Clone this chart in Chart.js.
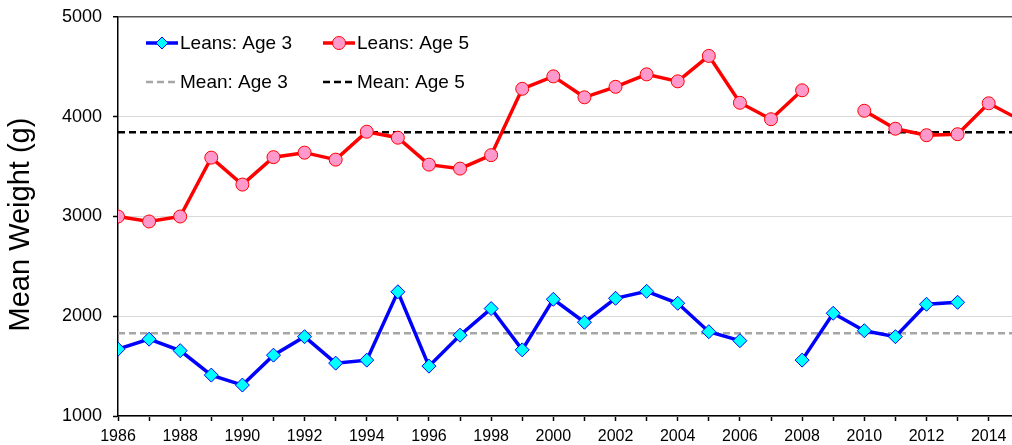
<!DOCTYPE html>
<html>
<head>
<meta charset="utf-8">
<script src="https://cdn.jsdelivr.net/npm/chart.js@4.4.1/dist/chart.umd.min.js"></script>
<style>
  html, body { margin: 0; padding: 0; background: #fff; }
  #wrap { width: 1012px; height: 445px; }
</style>
</head>
<body>
<div id="wrap"><canvas id="chart" width="1012" height="445"></canvas></div>
<script>
const years = [1986, 1987, 1988, 1989, 1990, 1991, 1992, 1993, 1994, 1995,
               1996, 1997, 1998, 1999, 2000, 2001, 2002, 2003, 2004, 2005,
               2006, 2007, 2008, 2009, 2010, 2011, 2012, 2013, 2014, 2015];

const age3 = [1670, 1770, 1655, 1410, 1310, 1610, 1795, 1530, 1560, 2245,
              1500, 1810, 2077, 1663, 2170, 1940, 2180, 2250, 2130, 1845,
              1755, null, 1560, 2030, 1855, 1795, 2120, 2140, null, null];

const age5 = [3000, 2950, 3000, 3590, 3320, 3595, 3640, 3570, 3850, 3790,
              3520, 3480, 3615, 4280, 4405, 4195, 4300, 4425, 4355, 4610,
              4140, 3975, 4265, null, 4060, 3880, 3815, 3825, 4135, 3970];

const meanAge3 = 1830;
const meanAge5 = 3845;

const yTicks = [1000, 2000, 3000, 4000, 5000];

const pts = arr => years.map((yr, i) => ({ x: yr, y: arr[i] }));
const flat = v => [{ x: years[0], y: v }, { x: years[years.length - 1], y: v }];

// legend drawn inside the plot, 2 x 2 grid
const insideLegend = {
  id: 'insideLegend',
  afterDraw(chart) {
    const ctx = chart.ctx;
    const a = chart.chartArea;
    const items = [
      { text: 'Leans: Age 3', col: 0, row: 0, color: '#0000ff', dash: [], w: 3.5, marker: 'diamond' },
      { text: 'Leans: Age 5', col: 1, row: 0, color: '#ff0000', dash: [], w: 3.5, marker: 'circle' },
      { text: 'Mean: Age 3', col: 0, row: 1, color: '#a6a6a6', dash: [7, 4], w: 2.5 },
      { text: 'Mean: Age 5', col: 1, row: 1, color: '#000000', dash: [7, 4], w: 2.5 }
    ];
    ctx.save();
    items.forEach(it => {
      const x0 = a.left + 28 + it.col * 177;
      const y = a.top + 26 + it.row * 39;
      ctx.strokeStyle = it.color;
      ctx.lineWidth = it.w;
      ctx.setLineDash(it.dash);
      ctx.beginPath();
      ctx.moveTo(x0, y);
      ctx.lineTo(x0 + 32, y);
      ctx.stroke();
      ctx.setLineDash([]);
      const cx = x0 + 16;
      if (it.marker === 'diamond') {
        ctx.fillStyle = '#00ffff';
        ctx.strokeStyle = '#0000ff';
        ctx.lineWidth = 1;
        ctx.beginPath();
        ctx.moveTo(cx, y - 6); ctx.lineTo(cx + 6, y); ctx.lineTo(cx, y + 6); ctx.lineTo(cx - 6, y);
        ctx.closePath(); ctx.fill(); ctx.stroke();
      } else if (it.marker === 'circle') {
        ctx.fillStyle = '#ff99cc';
        ctx.strokeStyle = '#ff0000';
        ctx.lineWidth = 1;
        ctx.beginPath();
        ctx.arc(cx, y, 6.5, 0, Math.PI * 2);
        ctx.fill(); ctx.stroke();
      }
      ctx.fillStyle = '#000';
      ctx.font = '19px "Liberation Sans", Arial, sans-serif';
      ctx.textAlign = 'left';
      ctx.textBaseline = 'middle';
      ctx.fillText(it.text, x0 + 34, y + 1);
    });
    ctx.restore();
  }
};

new Chart(document.getElementById('chart').getContext('2d'), {
  type: 'line',
  data: {
    datasets: [
      { label: 'Leans: Age 3', data: pts(age3), borderColor: '#0000ff', borderWidth: 3.5,
        pointStyle: 'rectRot', pointRadius: 7, pointBackgroundColor: '#00ffff',
        pointBorderColor: '#0000ff', pointBorderWidth: 1, spanGaps: false, tension: 0, order: 0 },
      { label: 'Leans: Age 5', data: pts(age5), borderColor: '#ff0000', borderWidth: 3.5,
        pointStyle: 'circle', pointRadius: 6.5, pointBackgroundColor: '#ff99cc',
        pointBorderColor: '#ff0000', pointBorderWidth: 1, spanGaps: false, tension: 0, order: 0 },
      { label: 'Mean: Age 3', data: flat(meanAge3), borderColor: '#a6a6a6', borderWidth: 2.5,
        borderDash: [7, 4], pointRadius: 0, order: 1 },
      { label: 'Mean: Age 5', data: flat(meanAge5), borderColor: '#000000', borderWidth: 2.5,
        borderDash: [7, 4], pointRadius: 0, order: 1 }
    ]
  },
  options: {
    responsive: false,
    animation: false,
    layout: { autoPadding: false, padding: { top: 17, right: 0, left: 0, bottom: 0 } },
    plugins: { legend: { display: false }, tooltip: { enabled: false } },
    scales: {
      x: {
        type: 'linear',
        min: 1986,
        max: 2014.75,
        afterBuildTicks: s => { s.ticks = years.filter(y => y <= 2014).map(v => ({ value: v })); },
        afterFit: s => { s.height = 29; s.paddingLeft = 0; s.paddingRight = 0; },
        grid: { drawOnChartArea: false, drawTicks: true, tickLength: 5, tickColor: '#000', tickWidth: 1.5 },
        border: { color: '#000', width: 1.5 },
        ticks: {
          autoSkip: false, maxRotation: 0, padding: 6, color: '#000',
          font: { family: '"Liberation Sans", Arial, sans-serif', size: 16 },
          callback: v => (v % 2 === 0 ? String(v) : '')
        }
      },
      y: {
        min: 1000,
        max: 5000,
        afterBuildTicks: s => { s.ticks = yTicks.map(v => ({ value: v })); },
        afterFit: s => { s.width = 118; s.paddingTop = 0; s.paddingBottom = 0; },
        grid: {
          color: c => (c.tick && c.tick.value === 5000 ? '#555' : '#d9d9d9'),
          lineWidth: c => (c.tick && c.tick.value === 5000 ? 1.5 : 1),
          tickLength: 5, tickColor: '#000', tickWidth: 1.5
        },
        border: { color: '#000', width: 1.5 },
        ticks: {
          padding: 11, color: '#000',
          font: { family: '"Liberation Sans", Arial, sans-serif', size: 18 },
          callback: v => String(v)
        },
        title: {
          display: true, text: 'Mean Weight (g)  ', color: '#000',
          padding: { top: 4, bottom: 0 },
          font: { family: '"Liberation Sans", Arial, sans-serif', size: 29, weight: 'normal' }
        }
      }
    }
  },
  plugins: [insideLegend]
});
</script>
</body>
</html>
